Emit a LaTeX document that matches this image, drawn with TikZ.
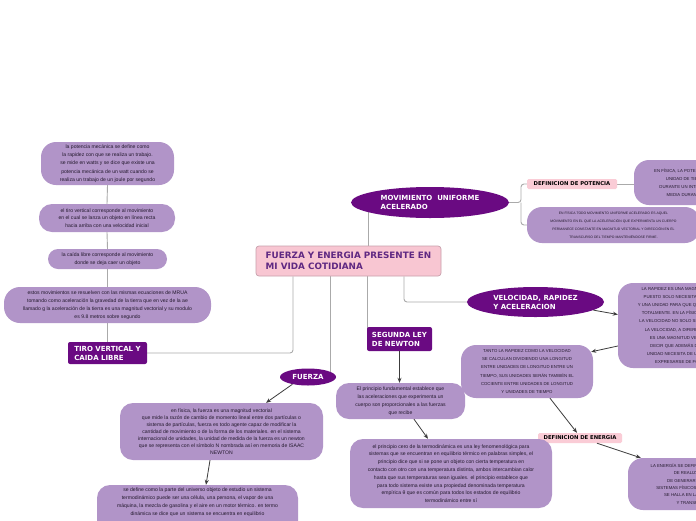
\documentclass[tikz,border=0pt]{standalone}
\usepackage{fontspec}
\setmainfont{Liberation Sans}
\newfontfamily\lblfont{DejaVu Sans}
\usetikzlibrary{backgrounds,arrows.meta,shapes.geometric}
\definecolor{dpurple}{RGB}{106,10,130}
\definecolor{lav}{RGB}{177,148,200}
\definecolor{rootfill}{RGB}{248,198,210}
\definecolor{rootdraw}{RGB}{200,160,172}
\definecolor{roottxt}{RGB}{95,40,130}
\definecolor{pinkl}{RGB}{250,204,214}
\definecolor{lgrey}{RGB}{170,170,170}
\definecolor{agrey}{RGB}{60,60,60}
\definecolor{txt}{RGB}{35,25,45}
\begin{document}
\begin{tikzpicture}[x=1pt,y=-1pt,
  lbox/.style={fill=lav, rounded corners=13pt, inner sep=0pt, align=center, text=txt, font=\fontsize{5.1}{7.8}\selectfont},
  ubox/.style={lbox, font=\fontsize{4.3}{8.1}\selectfont},
  purprect/.style={fill=dpurple, rounded corners=2pt, inner sep=0pt, text=white, align=left, font=\lblfont\bfseries\fontsize{7}{9}\selectfont},
  purpell/.style={ellipse, fill=dpurple, inner sep=0pt, text=white, align=left, font=\lblfont\bfseries\fontsize{7}{9}\selectfont},
  pinklbl/.style={fill=pinkl, rounded corners=1.5pt, inner sep=0pt, text=black, font=\lblfont\bfseries\fontsize{5.3}{6}\selectfont},
  tl/.style={draw=lgrey, line width=0.9pt, rounded corners=3pt},
  arr/.style={draw=agrey, line width=0.8pt, -{Stealth[length=5pt,width=4pt]}}]
\useasboundingbox (0,0) rectangle (696,520);

% root
\node[fill=rootfill, draw=rootdraw, line width=0.7pt, rounded corners=3pt, inner sep=0pt, minimum width=185pt, minimum height=30pt, align=left, text=roottxt, font=\lblfont\bfseries\fontsize{8.8}{11.5}\selectfont] (root) at (348.5,261) {FUERZA Y ENERGIA PRESENTE EN\\MI VIDA COTIDIANA};

% movimiento uniforme acelerado branch
\node[purpell, minimum width=158pt, minimum height=31pt] (mua) at (430,202.5) {MOVIMIENTO\ \ UNIFORME\\ACELERADO};
\coordinate (br) at (521,202.5);
\node[pinklbl, minimum width=90pt, minimum height=10pt] (defpot) at (572,184) {DEFINICION DE POTENCIA};
\node[ubox, font=\fontsize{4.3}{8.2}\selectfont, rounded corners=15pt, minimum width=136pt, minimum height=45pt] (potbox) at (702,182.5) {EN FÍSICA, LA POTENCIA ES LA CANTIDAD DE\\UNIDAD DE TIEMPO, LA POTENCIA\\DURANTE UN INTERVALO DE TIEMPO ES\\MEDIA DURANTE ESE INTERVALO};
\node[ubox, font=\fontsize{3.4}{8}\selectfont, rounded corners=15pt, minimum width=173pt, minimum height=36pt] (muabox) at (613.5,225) {EN FÍSICA TODO MOVIMIENTO UNIFORME ACELERADO ES AQUEL\\MOVIMIENTO EN EL QUE LA ACELERACIÓN QUE EXPERIMENTA UN CUERPO\\PERMANECE CONSTANTE EN MAGNITUD VECTORIAL Y DIRECCIÓN EN EL\\TRANSCURSO DEL TIEMPO MANTENIÉNDOSE FIRME.};

% velocidad branch
\node[purpell, minimum width=137pt, minimum height=30pt] (vra) at (535.5,302) {VELOCIDAD, RAPIDEZ\\Y ACELERACION};
\node[ubox, rounded corners=15pt, minimum width=152pt, minimum height=85pt] (rap) at (694,325.5) {LA RAPIDEZ ES UNA MAGNITUD ESCALAR YA QUE\\PUESTO SOLO NECESITA UN VALOR NUMÉRICO\\Y UNA UNIDAD PARA QUE QUEDE DEFINIDA COMPLE-\\TOTALMENTE. EN LA FÍSICA, EN CAMBIO, SE DICE\\LA VELOCIDAD NO SOLO SE DEFINE POR SU VALOR\\LA VELOCIDAD, A DIFERENCIA DE LA RAPIDEZ,\\ES UNA MAGNITUD VECTORIAL, ES DECIR\\DECIR QUE ADEMÁS DE UN VALOR Y UNA\\UNIDAD NECESITA DE UNA DIRECCIÓN PARA\\EXPRESARSE DE FORMA COMPLETA};
\node[ubox, rounded corners=15pt, minimum width=132pt, minimum height=53pt] (tanto) at (527,371.5) {TANTO LA RAPIDEZ COMO LA VELOCIDAD\\SE CALCULAN DIVIDIENDO UNA LONGITUD\\ENTRE UNIDADES DE LONGITUD ENTRE UN\\TIEMPO, SUS UNIDADES SERÁN TAMBIÉN EL\\COCIENTE ENTRE UNIDADES DE LONGITUD\\Y UNIDADES DE TIEMPO};
\node[pinklbl, minimum width=84pt, minimum height=10pt] (defen) at (580,438) {DEFINICION DE ENERGIA};
\node[ubox, font=\fontsize{4.3}{7.4}\selectfont, rounded corners=15pt, minimum width=142pt, minimum height=52pt] (enbox) at (699,484) {LA ENERGÍA SE DEFINE COMO LA CAPACIDAD\\DE REALIZAR TRABAJO,\\DE GENERAR CAMBIO EN LOS\\SISTEMAS FÍSICOS, Y AL MISMO TIEMPO\\SE HALLA EN LA CONSERVACIÓN\\Y TRANSFORMACIÓN};

% segunda ley
\node[purprect, minimum width=65pt, minimum height=24pt] (seg) at (399.5,339) {SEGUNDA LEY\\DE NEWTON};
\node[lbox, minimum width=129pt, minimum height=36pt] (pf) at (400.5,401) {El principio fundamental establece que\\las aceleraciones que experimenta un\\cuerpo son proporcionales a las fuerzas\\que recibe};
\node[lbox, minimum width=202pt, minimum height=69pt] (cero) at (451,473.5) {el principio cero de la termodinámica es una ley fenomenológica para\\sistemas que se encuentran en equilibrio térmico en palabras simples, el\\principio dice que si se pone un objeto con cierta temperatura en\\contacto con otro con una temperatura distinta, ambos intercambian calor\\hasta que sus temperaturas sean iguales. el principio establece que\\para todo sistema existe una propiedad denominada temperatura\\empírica θ que es común para todos los estados de equilibrio\\termodinámico entre sí};

% fuerza
\node[purpell, minimum width=56pt, minimum height=17pt] (fuerza) at (308,377) {FUERZA};
\node[lbox, font=\fontsize{5.1}{7}\selectfont, minimum width=203pt, minimum height=57pt] (fz) at (221.5,431.5) {en física, la fuerza es una magnitud vectorial\\que mide la razón de cambio de momento lineal entre dos partículas o\\sistema de partículas, fuerza es todo agente capaz de modificar la\\cantidad de movimiento o de la forma de los materiales. en el sistema\\internacional de unidades, la unidad de medida de la fuerza es un newton\\que se representa con el símbolo N nombrada así en memoria de ISAAC\\NEWTON};
\node[lbox, minimum width=201pt, minimum height=50pt] (sis) at (197.5,510) {};
\node[anchor=north, inner sep=0pt, align=center, text=txt, font=\fontsize{5.1}{7.9}\selectfont] (sistxt) at (197.5,487.5) {se define como la parte del universo objeto de estudio un sistema\\termodinámico puede ser una célula, una persona, el vapor de una\\máquina, la mezcla de gasolina y el aire en un motor térmico. en termo\\dinámica se dice que un sistema se encuentra en equilibrio};

% tiro vertical
\node[purprect, minimum width=79pt, minimum height=22pt] (tiro) at (107.5,353) {TIRO VERTICAL Y\\CAIDA LIBRE};
\node[lbox, minimum width=207pt, minimum height=36pt, rounded corners=16pt] (pd) at (107.5,305) {estos movimientos se resuelven con las mismas ecuaciones de MRUA\\tomando como aceleración la gravedad de la tierra que en vez de la ae\\llamado g la aceleración de la tierra es una magnitud vectorial y su modulo\\es 9.8 metros sobre segundo};
\node[lbox, rounded corners=10pt, minimum width=119pt, minimum height=20pt] (pc) at (107.5,259) {la caída libre corresponde al movimiento\\donde se deja caer un objeto};
\node[lbox, minimum width=136pt, minimum height=28pt] (pb) at (107,218) {el tiro vertical corresponde al movimiento\\en el cual se lanza un objeto en línea recta\\hacia arriba con una velocidad inicial};
\node[lbox, minimum width=133pt, minimum height=43pt, rounded corners=15pt, font=\fontsize{5.1}{8.2}\selectfont] (pa) at (107.5,163.5) {la potencia mecánica se define como\\la rapidez con que se realiza un trabajo.\\se mide en watts y se dice que existe una\\potencia mecánica de un watt cuando se\\realiza un trabajo de un joule por segundo};

\begin{scope}[on background layer]
\fill[white] (0,0) rectangle (696,520);
% tree lines
\draw[tl] ([xshift=19.5pt]root.north) -- ([xshift=19.5pt]root.north |- mua.center);
\draw[tl] (mua.east) -- (br) |- (defpot.west);
\draw[tl] (br) |- (muabox.west);
\draw[tl] (defpot.east) -- (defpot.east -| potbox.west);
\draw[tl] ([xshift=55.5pt]root.south) |- (vra.west);
\draw[tl] ([xshift=18.5pt]root.south) -- ([xshift=18.5pt]root.south |- seg.west);
\draw[tl] ([xshift=-18.5pt]root.south) -- ([xshift=-18.5pt]root.south |- fuerza.center);
\draw[tl] ([xshift=-55.5pt]root.south) |- (tiro.east);
\draw[tl] (tiro.north) -- (pd.south);
\draw[tl] (pd.north) -- (pc.south);
\draw[tl] (pc.north) -- (pb.south);
\draw[tl] (pb.north) -- (pa.south);
\end{scope}

% arrows
\draw[arr] (vra.352) -- ([yshift=11pt]rap.west);
\draw[arr] ([yshift=-20.5pt]rap.west) -- ([xshift=-2pt,yshift=-7pt]tanto.north east);
\draw[arr] ([xshift=23pt]tanto.south) -- ([xshift=-3pt]defen.north);
\draw[arr] ([xshift=17pt]defen.south) -- ([xshift=13pt]enbox.north west);
\draw[arr] (seg.south) -- (seg.south |- pf.north);
\draw[arr] ([xshift=13.5pt]pf.south) -- ([xshift=-23pt]cero.north);
\draw[arr] (fuerza.205) -- ([xshift=44.5pt]fz.north);
\draw[arr] ([xshift=-11.5pt]fz.south) -- ([xshift=8.5pt]sis.north);
\end{tikzpicture}
\end{document}
